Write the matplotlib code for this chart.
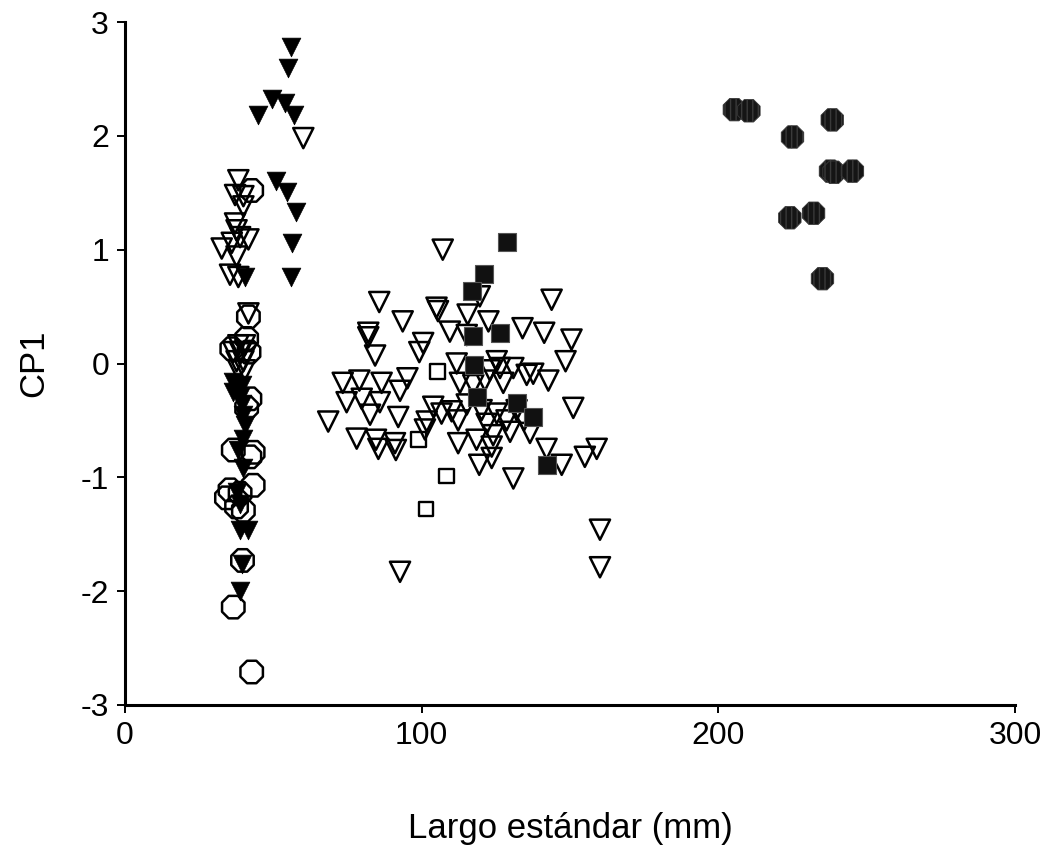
import matplotlib
matplotlib.use("Agg")
import matplotlib.pyplot as plt
import numpy as np

plt.rcParams['font.family'] = ['Liberation Sans', 'DejaVu Sans']

# ---- data (Largo estándar mm, CP1) ----
open_oct_x = [42.7, 41.6, 41.0, 36.0, 41.8, 42.1, 41.0, 36.5, 43.2, 42.1, 43.2, 35.4,
              38.8, 34.2, 37.6, 39.9, 39.6, 36.5, 42.7]
open_oct_y = [1.52, 0.41, 0.22, 0.13, 0.10, -0.31, -0.39, -0.76, -0.78, -0.82, -1.07, -1.11,
              -1.14, -1.18, -1.26, -1.29, -1.73, -2.14, -2.71]

filled_tri_x = [56.0, 55.0, 49.7, 44.9, 53.9, 57.0, 50.8, 54.5, 57.6, 56.2, 55.8,
                40.4, 36.5, 39.3, 36.5, 38.8, 39.3, 39.9, 40.4, 39.9, 38.2, 39.9,
                37.6, 38.8, 38.8, 41.6, 39.6, 38.8]
filled_tri_y = [2.78, 2.60, 2.32, 2.18, 2.29, 2.18, 1.60, 1.51, 1.33, 1.06, 0.76,
                0.76, -0.16, -0.19, -0.25, -0.29, -0.36, -0.45, -0.54, -0.66, -0.76, -0.92,
                -1.13, -1.23, -1.46, -1.46, -1.76, -2.00]

open_tri_x = [38.2, 37.1, 39.9, 39.9, 37.1, 37.6, 38.8, 41.6, 32.6, 36.0, 37.6, 35.4,
              38.2, 41.6, 38.2, 40.4, 36.5, 38.8, 41.0, 37.6, 39.9, 38.2, 40.4, 60.1,
              107.1, 85.7, 143.8, 105.0, 105.5, 119.6, 115.5, 93.6, 122.5, 109.5, 134.0,
              141.3, 82.0, 82.0, 150.5, 100.5, 99.2, 84.3, 115.2, 148.5, 111.8, 125.3,
              126.4, 130.9, 135.4, 137.6, 142.7, 73.4, 79.0, 86.5, 95.2, 92.7, 112.9,
              121.3, 127.5, 74.7, 79.8, 85.9, 82.6, 68.5, 92.1, 106.7, 110.1, 112.3,
              101.7, 101.1, 120.2, 125.3, 132.0, 134.5, 151.1, 78.1, 84.6, 85.4, 91.0,
              91.3, 112.3, 118.5, 124.1, 129.8, 123.6, 136.5, 142.1, 159.0, 155.0,
              147.2, 119.4, 123.6, 130.9, 160.1, 160.1, 92.7, 115.2, 103.9, 121.9,
              128.6, 123.0, 117.4]
open_tri_y = [1.61, 1.48, 1.47, 1.38, 1.23, 1.17, 1.11, 1.09, 1.01, 1.06, 0.94, 0.78,
              0.76, 0.44, 0.16, 0.16, 0.10, 0.10, 0.09, 0.02, 0.02, -0.06, -0.06, 1.98,
              1.00, 0.54, 0.56, 0.49, 0.46, 0.59, 0.43, 0.37, 0.37, 0.28, 0.31,
              0.27, 0.27, 0.23, 0.21, 0.18, 0.10, 0.07, 0.25, 0.02, 0.00, 0.02,
              -0.04, -0.04, -0.10, -0.09, -0.15, -0.17, -0.15, -0.17, -0.13, -0.24, -0.17,
              -0.15, -0.17, -0.34, -0.31, -0.34, -0.45, -0.51, -0.47, -0.44, -0.42, -0.50,
              -0.51, -0.58, -0.41, -0.44, -0.41, -0.50, -0.39, -0.66, -0.67, -0.75, -0.70,
              -0.76, -0.70, -0.67, -0.63, -0.60, -0.73, -0.61, -0.75, -0.75, -0.82,
              -0.89, -0.89, -0.83, -1.01, -1.46, -1.79, -1.83, -0.36, -0.38, -0.53,
              -0.50, -0.06, -0.19]

open_sq_x = [105.3, 98.9, 108.4, 101.4]
open_sq_y = [-0.07, -0.67, -0.99, -1.28]

filled_sq_x = [128.9, 121.0, 117.1, 126.4, 117.2, 117.7, 118.7, 132.0, 137.4, 142.1]
filled_sq_y = [1.07, 0.79, 0.64, 0.27, 0.24, -0.01, -0.29, -0.35, -0.47, -0.89]

filled_oct_x = [205.4, 210.3, 225.0, 238.4, 237.8, 239.0, 245.2, 224.1, 232.1, 235.1]
filled_oct_y = [2.23, 2.22, 1.99, 2.14, 1.69, 1.68, 1.69, 1.28, 1.32, 0.745]

x_ticks = [0, 100, 200, 300]
y_ticks = [-3, -2, -1, 0, 1, 2, 3]

# ---- figure ----
fig = plt.figure(figsize=(10.5, 8.51), dpi=100)
ax = fig.add_axes([125/1050, 1 - 705/851, (1015-125)/1050, (705-22)/851])

ax.scatter(open_tri_x, open_tri_y, marker='v', s=14.5**2, facecolors='none',
           edgecolors='black', linewidths=1.8, zorder=3)
ax.scatter(open_sq_x, open_sq_y, marker='s', s=10.5**2, facecolors='none',
           edgecolors='black', linewidths=1.7, zorder=3)
ax.scatter(filled_sq_x, filled_sq_y, marker='s', s=13.5**2, facecolors='#111111',
           edgecolors='#555555', linewidths=0.8, zorder=4)
ax.scatter(filled_tri_x, filled_tri_y, marker='v', s=13.5**2, facecolors='black',
           edgecolors='black', linewidths=0.5, zorder=4)
ax.scatter(open_oct_x, open_oct_y, marker='8', s=17.5**2, facecolors='none',
           edgecolors='black', linewidths=1.8, zorder=5)
ax.scatter(filled_oct_x, filled_oct_y, marker='8', s=17.5**2, facecolors='#151515',
           edgecolors='#3a3a3a', linewidths=0.6, hatch='|||', zorder=4)

ax.set_xlim(0, 300)
ax.set_ylim(-3, 3)
ax.set_xticks(x_ticks)
ax.set_yticks(y_ticks)
ax.set_xticklabels([str(v) for v in x_ticks])
ax.set_yticklabels([str(v) for v in y_ticks])

for side in ['top', 'right']:
    ax.spines[side].set_visible(False)
for side in ['left', 'bottom']:
    ax.spines[side].set_linewidth(2.2)

ax.tick_params(axis='both', direction='out', length=5.5, width=1.4, labelsize=23, pad=6)

ax.set_xlabel('Largo estándar (mm)', fontsize=25, labelpad=44)
ax.set_ylabel('CP1', fontsize=25, labelpad=22)

fig.savefig('out.png', dpi=100)
